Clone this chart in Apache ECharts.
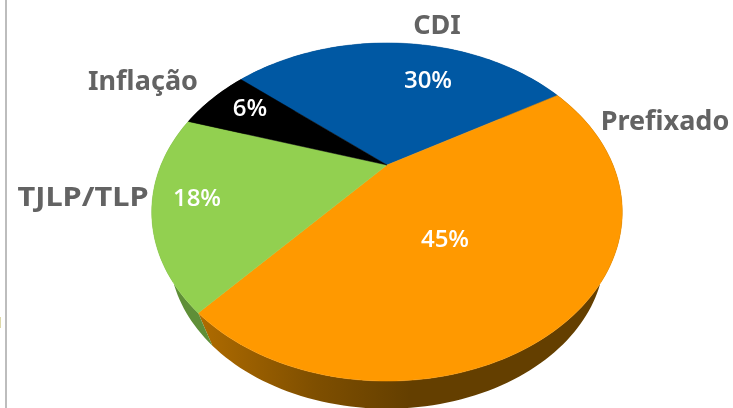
<!DOCTYPE html>
<html>
<head>
<meta charset="utf-8">
<script src="https://cdn.jsdelivr.net/npm/echarts@6/dist/echarts.min.js"></script>
<style>
html, body { margin: 0; padding: 0; background: #fff; overflow: hidden; }
#chart { width: 733px; height: 408px; }
</style>
</head>
<body>
<div id="chart"></div>
<script>
// values (labels print them rounded)
const categories = ["CDI", "Prefixado", "TJLP/TLP", "Inflação"];
const shares = [30.3, 45, 18.4, 6.3];

const sliceColors = ["#0058a3", "#ff9900", "#92d050", "#000000"];
const sideColors = ["#00386a", null, "#5f8f38", "#000000"];
// centre of each label, hand placed like in the original chart
const namePos = [[437, 26], [665, 122], [83, 198], [143, 82]];
const nameStretch = [1, 1, 1.14, 1];
const sharePos = [[428, 81], [445, 240], [197, 199], [250, 109]];

// perspective of the tilted disc
const apexX = 387, apexY = 165, radX = 226, radY = 156, tilt = 0.278;
const startAngle = -49.7;
const depthScale = 0.925, depthDrop = 56.2;
const total = shares.reduce((a, b) => a + b, 0);

function project(deg) {
  const t = deg * Math.PI / 180;
  const w = 1 + tilt * Math.cos(t);
  return [apexX + radX * Math.sin(t) / w, apexY - radY * Math.cos(t) / w];
}
function lower(p) {
  return [apexX + depthScale * (p[0] - apexX), depthScale * p[1] + depthDrop];
}
function sliceRange(i) {
  let from = startAngle;
  for (let k = 0; k < i; k++) from += shares[k] / total * 360;
  return [from, from + shares[i] / total * 360];
}
function arc(from, to) {
  const pts = [];
  const n = Math.max(8, Math.ceil((to - from) / 1.5));
  for (let k = 0; k <= n; k++) pts.push(project(from + (to - from) * k / n));
  return pts;
}

const orangeSide = new echarts.graphic.LinearGradient(197, 0, 410, 0, [
  { offset: 0, color: "#b06c00" },
  { offset: 0.55, color: "#7f4f00" },
  { offset: 1, color: "#643f00" }
], true);

function renderSide(params, api) {
  const i = params.dataIndex;
  const range = sliceRange(i);
  const top = arc(range[0], range[1]);
  return {
    type: "polygon",
    shape: { points: top.concat(top.map(lower).reverse()) },
    style: { fill: sideColors[i] || orangeSide }
  };
}

function renderTop(params, api) {
  const i = params.dataIndex;
  const range = sliceRange(i);
  return {
    type: "group",
    children: [
      {
        type: "polygon",
        shape: { points: [[apexX, apexY]].concat(arc(range[0], range[1])) },
        style: { fill: sliceColors[i], stroke: sliceColors[i], lineWidth: 0.5 }
      },
      {
        type: "text",
        z2: 10,
        x: namePos[i][0],
        y: namePos[i][1],
        scaleX: nameStretch[i],
        style: {
          x: 0, y: 0, text: categories[i],
          fill: "#636363", font: "bold 27px 'Noto Sans'",
          align: "center", verticalAlign: "middle"
        }
      },
      {
        type: "text",
        z2: 10,
        style: {
          x: sharePos[i][0], y: sharePos[i][1], text: Math.round(api.value(0)) + "%",
          fill: "#ffffff", font: "600 24px 'Open Sans'",
          align: "center", verticalAlign: "middle"
        }
      }
    ]
  };
}

const myChart = echarts.init(document.getElementById("chart"), null, { renderer: "canvas" });
myChart.setOption({
  animation: false,
  backgroundColor: "#ffffff",
  graphic: [
    { type: "rect", shape: { x: 5, y: 0, width: 2, height: 408 }, style: { fill: "#bdbdbd" } },
    { type: "rect", shape: { x: 0, y: 317, width: 1, height: 11 }, style: { fill: "#ddd8a8" } }
  ],
  series: [
    { type: "custom", coordinateSystem: "none", z: 1, renderItem: renderSide, data: shares.map(v => [v]) },
    { type: "custom", coordinateSystem: "none", z: 2, renderItem: renderTop, data: shares.map(v => [v]) }
  ]
});
</script>
</body>
</html>
